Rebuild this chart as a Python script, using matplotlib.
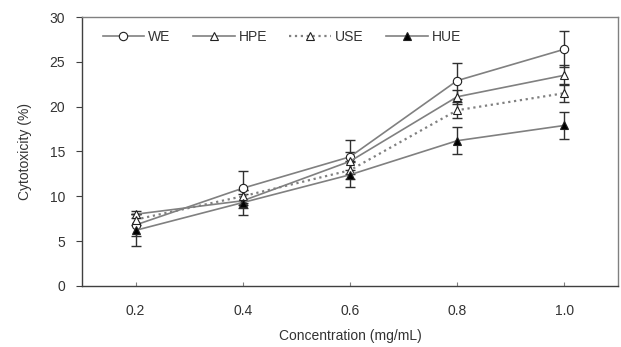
import matplotlib
matplotlib.use('Agg')
import matplotlib.pyplot as plt
import numpy as np

plt.rcParams['font.family'] = ['Liberation Sans', 'DejaVu Sans']

concentrations = ['0.2', '0.4', '0.6', '0.8', '1.0']

we = [6.8, 10.9, 14.4, 22.9, 26.4]
we_err = [1.2, 1.9, 1.9, 2.0, 2.0]
hpe = [8.0, 9.5, 13.9, 21.1, 23.5]
hpe_err = [0.4, 0.8, 1.0, 0.8, 1.1]
use = [7.4, 10.0, 12.9, 19.6, 21.5]
use_err = [0.6, 0.7, 1.0, 0.9, 1.0]
hue = [6.2, 9.3, 12.4, 16.2, 17.9]
hue_err = [1.8, 1.4, 1.4, 1.5, 1.5]

fig = plt.figure(figsize=(6.21, 3.47), dpi=100)
ax = fig.add_axes([0.132, 0.176, 0.863, 0.775])

x = np.arange(len(concentrations))
line_col = '#808080'
edge = '#202020'
txt = '#333333'
fs = 10

series = [
    ('WE', we, we_err, 'o', 'white', '-', 6),
    ('HPE', hpe, hpe_err, '^', 'white', '-', 5.5),
    ('USE', use, use_err, '^', 'white', ':', 5.5),
    ('HUE', hue, hue_err, '^', 'black', '-', 5.5),
]

# error bars first so the markers sit on top
for name, vals, err, mk, fc, ls, ms in series:
    ax.errorbar(x, vals, yerr=err, fmt='none', ecolor='#303030',
                elinewidth=1, capsize=3.5, capthick=1, zorder=2)
for name, vals, err, mk, fc, ls, ms in series:
    ax.plot(x, vals, color=line_col, linestyle=ls, linewidth=1.6 if ls == ':' else 1.2,
            marker=mk, markersize=ms, markerfacecolor=fc, markeredgecolor=edge,
            markeredgewidth=0.8, label=name, zorder=3)

ax.set_xlim(-0.5, len(concentrations) - 0.5)
ax.set_ylim(0, 30)
ax.set_yticks(range(0, 31, 5))
ax.set_xticks(x)
ax.set_xticklabels(concentrations)
ax.tick_params(axis='y', direction='out', length=4, color='#404040', labelsize=fs,
               labelcolor=txt, pad=8)
ax.tick_params(axis='x', direction='in', length=3, color='#808080', labelsize=fs,
               labelcolor=txt, pad=13)
for s in ax.spines.values():
    s.set_color('#404040')
    s.set_linewidth(1.0)
ax.spines['right'].set_color('#808080')
ax.spines['top'].set_color('#808080')

ax.set_xlabel('Concentration (mg/mL)', fontsize=fs, color=txt, labelpad=8)
ax.set_ylabel('Cytotoxicity (%)', fontsize=fs, color=txt, labelpad=13)

ax.legend(loc='upper left', bbox_to_anchor=(0.015, 1.0), ncol=4, frameon=False,
          fontsize=fs, handlelength=3.0, columnspacing=1.6, handletextpad=0.3,
          labelcolor=txt)

fig.savefig('out.png', dpi=100)
